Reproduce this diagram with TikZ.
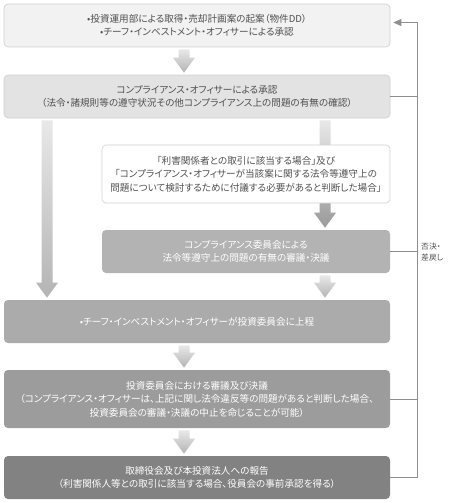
\documentclass[tikz,border=0pt]{standalone}
\usepackage{fontspec}
\setmainfont[RawFeature=+palt]{Noto Sans CJK JP}
\usetikzlibrary{arrows.meta,backgrounds,calc}
\definecolor{txtgray}{HTML}{505050}
\definecolor{boxline}{HTML}{CFCFCF}
\definecolor{retgray}{HTML}{8E8E8E}
\definecolor{fillA}{HTML}{F2F2F2}
\definecolor{fillB}{HTML}{E3E3E3}
\definecolor{fillD}{HTML}{B3B3B3}
\definecolor{fillE}{HTML}{ABABAB}
\definecolor{fillF}{HTML}{9C9C9C}
\definecolor{fillG}{HTML}{828282}
\definecolor{arrtop}{HTML}{E8E8E8}
\definecolor{arrbot}{HTML}{B4B4B4}
\definecolor{arrdark}{HTML}{9A9A9A}
\tikzstyle{box} = [draw=boxline, rounded corners=4pt, line width=0.6pt, align=center, inner sep=0pt, font=\fontsize{9.6}{13.5}\selectfont, text=txtgray]
\tikzstyle{darkbox} = [box, draw=none, text=white]
\tikzstyle{back} = [draw=retgray, line width=0.8pt]
\tikzstyle{backarrow} = [back, -{Triangle[length=8pt,width=7pt]}, shorten >=3pt]
% block arrow: x, from node, to node, top colour, bottom colour
\newcommand{\flowarrow}[5]{%
  \shade[top color=#4, bottom color=#5] let \p1=(#2.south), \p2=(#3.north) in
    ({#1pt-5.5pt},{\y1-2pt}) -- ({#1pt+5.5pt},{\y1-2pt}) -- ({#1pt+5.5pt},{\y2+17pt}) --
    ({#1pt+11pt},{\y2+17pt}) -- (#1pt,{\y2+2pt}) -- ({#1pt-11pt},{\y2+17pt}) --
    ({#1pt-5.5pt},{\y2+17pt}) -- cycle;}

\begin{document}
\begin{tikzpicture}[x=1pt, y=-1pt]
  \useasboundingbox (0,0) rectangle (449,503);
  \node[box, fill=fillA, minimum width=386pt, minimum height=43pt] (b1) at (197,25.5) {•投資運用部による取得・売却計画案の起案（物件DD）\\•チーフ・インベストメント・オフィサーによる承認};
  \node[box, fill=fillB, minimum width=386pt, minimum height=43pt] (b2) at (197,96.5) {コンプライアンス・オフィサーによる承認\\（法令・諸規則等の遵守状況その他コンプライアンス上の問題の有無の確認）};
  \node[box, fill=white, minimum width=288pt, minimum height=58pt] (b3) at (246,174) {「利害関係者との取引に該当する場合」及び\\「コンプライアンス・オフィサーが当該案に関する法令等遵守上の\\問題について検討するために付議する必要があると判断した場合」};
  \node[darkbox, fill=fillD, minimum width=288pt, minimum height=43pt] (b4) at (246,251.5) {コンプライアンス委員会による\\法令等遵守上の問題の有無の審議・決議};
  \node[darkbox, fill=fillE, minimum width=386pt, minimum height=43pt] (b5) at (197,321.5) {•チーフ・インベストメント・オフィサーが投資委員会に上程};
  \node[darkbox, fill=fillF, minimum width=386pt, minimum height=58pt] (b6) at (197,399) {投資委員会における審議及び決議\\（コンプライアンス・オフィサーは、上記に関し法令違反等の問題があると判断した場合、\\投資委員会の審議・決議の中止を命じることが可能）};
  \node[darkbox, fill=fillG, minimum width=386pt, minimum height=43pt] (b7) at (197,477.5) {取締役会及び本投資法人への報告\\（利害関係人等との取引に該当する場合、役員会の事前承認を得る）};
  \begin{pgfonlayer}{background}
    \flowarrow{184}{b1}{b2}{arrtop}{arrbot}
    \flowarrow{47}{b2}{b5}{arrtop}{arrbot}
    \flowarrow{325}{b2}{b4}{arrtop}{arrdark}
    \flowarrow{325}{b4}{b5}{arrtop}{arrbot}
    \flowarrow{184}{b5}{b6}{arrtop}{arrbot}
    \flowarrow{184}{b6}{b7}{arrtop}{arrbot}
  \end{pgfonlayer}
  \coordinate (rx) at (417,0);
  \draw[backarrow] (b7.east) -- (b7.east -| rx) |- ([yshift=3pt]b1.east);
  \foreach \b in {b2,b4,b6} \draw[back] (\b.east) -- (\b.east -| rx);
  \node[anchor=west, align=left, inner sep=0pt, font=\fontsize{7.8}{11}\selectfont, text=txtgray] (lbl) at (421,252) {否決・\\差戻し};
\end{tikzpicture}
\end{document}
